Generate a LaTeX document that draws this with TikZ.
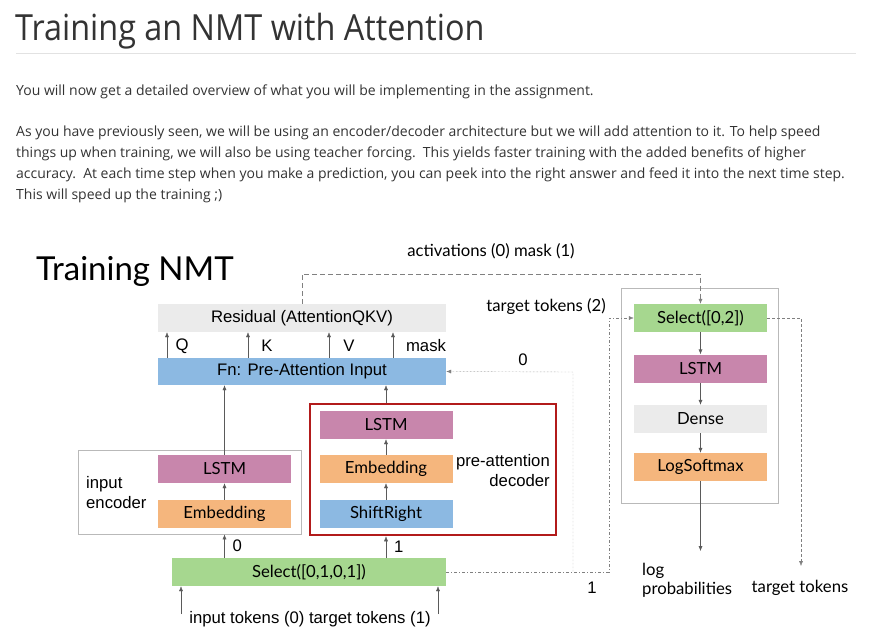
\documentclass[tikz,border=0pt]{standalone}
\usepackage{fontspec}
\usepackage{tikz}
\usetikzlibrary{calc,arrows.meta}
\newfontfamily\osans{Open Sans}
\newfontfamily\osanstitle[FakeStretch=0.9]{Open Sans}
\newfontfamily\latof{Lato}
\newfontfamily\arialf{Liberation Sans}
\definecolor{nmt-text}{HTML}{333333}
\definecolor{nmt-rule}{HTML}{E2E2E2}
\definecolor{nmt-gray}{HTML}{EBEBEB}
\definecolor{nmt-blue}{HTML}{8CB9E2}
\definecolor{nmt-pink}{HTML}{C886AC}
\definecolor{nmt-orange}{HTML}{F5B67D}
\definecolor{nmt-green}{HTML}{A6D78F}
\definecolor{nmt-red}{HTML}{B21B1B}
\definecolor{nmt-line}{HTML}{5A5A5A}
\tikzset{
  layer/.style={inner sep=0pt, minimum height=28pt, minimum width=133pt, text=black},
  latolbl/.style={font=\latof\fontsize{16.7}{20}\selectfont, text=black},
  ariallbl/.style={font=\arialf\fontsize{16.7}{20}\selectfont, text=black},
  flow/.style={nmt-line, -{Latex[length=5pt,width=4pt]}},
  frame/.style={draw=gray!55, line width=0.8pt, inner sep=0pt},
}

\begin{document}
\begin{tikzpicture}[x=1pt,y=-1pt]
    \useasboundingbox (0,0) rectangle (875,641);

    % Page header and text
    \node[anchor=base west, inner sep=0pt, text=nmt-text, font=\osanstitle\fontsize{36}{44}\selectfont] (title) at (15,40) {Training an NMT with Attention};
    \draw[nmt-rule, line width=1pt] (16,53) -- (856,53);
    \begin{scope}[every node/.style={anchor=base west, inner sep=0pt, text=nmt-text, font=\osans\fontsize{14}{21}\selectfont}]
        \node (par0) at (16,95) {You will now get a detailed overview of what you will be implementing in the assignment.};
        \node (par1) at (16,136) {As you have previously seen, we will be using an encoder/decoder architecture but we will add attention to it. To help speed};
        \node (par2) at (16,157) {things up when training, we will also be using teacher forcing.\ \ This yields faster training with the added benefits of higher};
        \node (par3) at (16,178) {accuracy.\ \ At each time step when you make a prediction, you can peek into the right answer and feed it into the next time step.};
        \node (par4) at (16,199) {This will speed up the training ;)};
    \end{scope}

    % Diagram title
    \node[anchor=base west, inner sep=0pt, font=\latof\fontsize{33}{40}\selectfont] (dtitle) at (36,280) {Training NMT};

    % Attention layers
    \node[layer, fill=nmt-gray, minimum width=288pt, ariallbl] (res) at (302,318) {Residual (AttentionQKV)};
    \node[layer, fill=nmt-blue, minimum width=288pt, minimum height=27pt, ariallbl] (fn) at (302,371.5) {Fn: Pre-Attention Input};

    % Input encoder
    \node[frame, minimum width=223pt, minimum height=84pt] (encbox) at (189.5,492) {};
    \node[layer, fill=nmt-pink, latolbl] (enclstm) at (224.5,469) {LSTM};
    \node[layer, fill=nmt-orange, latolbl] (encemb) at (224.5,514) {Embedding};
    \node[anchor=west, align=left, inner sep=0pt, font=\arialf\fontsize{16.7}{20}\selectfont] (enclbl) at (86,493) {input\\encoder};

    % Pre-attention decoder
    \node[draw=nmt-red, line width=2.5pt, inner sep=0pt, minimum width=246pt, minimum height=131pt] (decbox) at (433,469.5) {};
    \node[layer, fill=nmt-pink, latolbl] (declstm) at (386,425) {LSTM};
    \node[layer, fill=nmt-orange, latolbl] (decemb) at (386,469) {Embedding};
    \node[layer, fill=nmt-blue, latolbl] (shift) at (386,514) {ShiftRight};
    \node[anchor=east, align=right, inner sep=0pt, font=\arialf\fontsize{16.7}{20}\selectfont] (declbl) at (550,471) {pre-attention\\decoder};

    % Select for the inputs
    \node[layer, fill=nmt-green, minimum width=274pt, latolbl] (sel) at (309,572) {Select([0,1,0,1])};
    \node[ariallbl, inner sep=0pt] (inlbl) at (310,619) {input tokens (0) target tokens (1)};
    \coordinate (inA) at (181,614);
    \coordinate (inB) at (438,614);

    % Decoder side
    \node[frame, minimum width=157pt, minimum height=215pt] (rbox) at (699.5,395.5) {};
    \node[layer, fill=nmt-green, latolbl] (sel2) at (700.5,318) {Select([0,2])};
    \node[layer, fill=nmt-pink, latolbl] (lstm2) at (700.5,368.5) {LSTM};
    \node[layer, fill=nmt-gray, latolbl] (dense) at (700.5,419) {Dense};
    \node[layer, fill=nmt-orange, latolbl] (logsm) at (700.5,467) {LogSoftmax};
    \coordinate (logout) at (700.5,551);
    \coordinate (tgtout) at (801,566);
    \node[anchor=north west, align=left, inner sep=0pt, font=\latof\fontsize{16.7}{19}\selectfont] (loglbl) at (642,563) {log\\probabilities};
    \node[latolbl, inner sep=0pt] (tgtlbl) at (800,588) {target tokens};
    \node[latolbl, inner sep=0pt, anchor=east] (tgt2lbl) at (606,307) {target tokens (2)};
    \node[latolbl, inner sep=0pt] (actlbl) at (491,251) {activations (0) mask (1)};

    % Q K V mask
    \foreach \xq/\lq/\xl in {167/Q/182, 248/K/267, 329/V/349, 393/mask/426} {
        \draw[flow] (fn.north -| \xq,0) -- (res.south -| \xq,0);
        \node[ariallbl, inner sep=0pt] at (\xl,346) {\lq};
    }

    % Vertical flow
    \draw[flow] (enclstm.north) -- (fn.south -| enclstm.north);
    \draw[flow] (decbox.north -| declstm.north) -- (fn.south -| declstm.north);
    \draw[flow] (encemb.north) -- (enclstm.south);
    \draw[flow] (shift.north) -- (decemb.south);
    \draw[flow] (decemb.north) -- (declstm.south);
    \draw[flow] (sel.north -| encemb.south) -- (encbox.south -| encemb.south) node[midway, right=8pt, ariallbl, inner sep=0pt] {0};
    \draw[flow] (sel.north -| shift.south) -- (decbox.south -| shift.south) node[midway, right=8pt, ariallbl, inner sep=0pt] {1};
    \draw[flow] (inA) -- (inA |- sel.south);
    \draw[flow] (inB) -- (inB |- sel.south);
    \draw[flow] (sel2) -- (lstm2);
    \draw[flow] (lstm2) -- (dense);
    \draw[flow] (dense) -- (logsm);
    \draw[flow] (logsm) -- (logout);

    % Dashed and dotted paths
    \draw[flow, gray, dashed, dash pattern=on 5pt off 3pt] (res.north) -- (302,274) -| (sel2.north);
    \draw[flow, gray, dash pattern=on 3pt off 2pt on 1pt off 2pt] (sel.east) -- (609,572) |- (sel2.west);
    \draw[flow, gray, densely dotted] (573,572) -- (573,372) -- (fn.east);
    \draw[flow, gray, dash pattern=on 3pt off 2pt] (sel2.east) -| (tgtout);
    \node[ariallbl, inner sep=0pt] (zero) at (523,360) {0};
    \node[ariallbl, inner sep=0pt] (one) at (592,588) {1};

\end{tikzpicture}
\end{document}
